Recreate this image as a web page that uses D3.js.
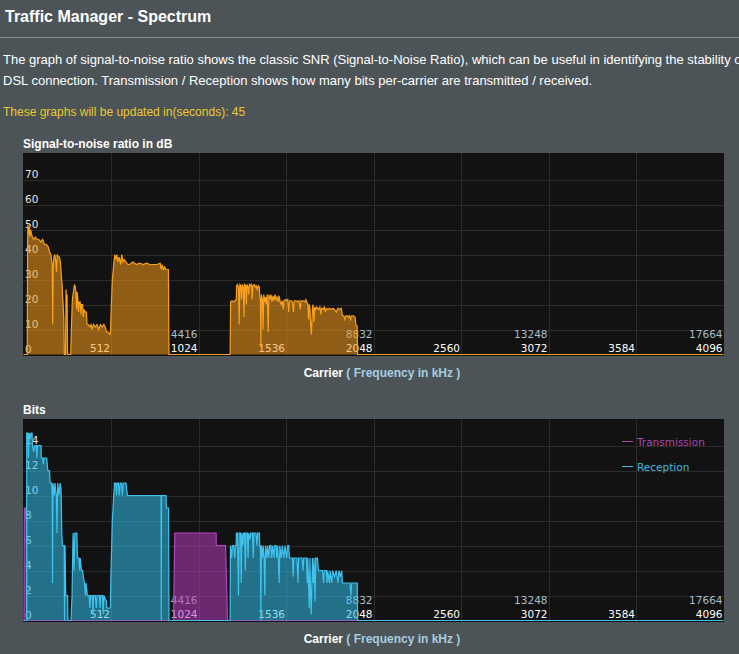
<!DOCTYPE html>
<html>
<head>
<meta charset="utf-8">
<script src="https://cdn.jsdelivr.net/npm/d3@7"></script>
<style>
  body { margin: 0; background: #4c5458; overflow: hidden; }
  svg { display: block; font-family: "Liberation Sans", Arial, sans-serif; }
</style>
</head>
<body>
<svg width="739" height="654"></svg>
<script>
// carrier index -> value
const snrPoints = [
  [0,0],[22,0],[24,45],[26,52],[29,48],[33,51],[37,47],[42,50],[47,48],[53,47],[60,46],[70,47],[80,46],[90,46],
  [100,45],[112,46],[123,44],[135,44],[145,43],[152,41],[160,40],[164,38],[168,36],[171,12],[174,35],[178,39],
  [183,40],[188,38],[193,33],[197,40],[203,39],[210,39],[216,37],[222,31],[226,28],[228,24],[232,20],[236,14],
  [239,0],[246,0],[249,26],[252,18],[255,24],[258,0],[276,0],[280,10],[286,22],[292,25],[298,28],[303,27],
  [308,24],[311,18],[314,25],[318,22],[322,17],[326,21],[332,21],[336,16],[340,20],[346,20],[350,15],[354,18],
  [360,17],[368,17],[372,12],[380,12],[388,11],[395,12],[402,10],[410,12],[420,11],[430,12],[440,10],[450,12],
  [460,11],[470,12],[478,11],[486,9],[495,9],[505,8],[509,9],[514,20],[520,30],[528,36],[534,40],[540,38],
  [546,40],[552,37],[560,39],[568,36],[575,40],[582,37],[590,38],[600,37],[610,36],[620,36],[640,37],[660,36],
  [680,36.5],[700,36],[720,36.5],[740,36],[760,36],[780,36],[800,36.5],[806,34],[812,36],[818,34],[826,35],
  [832,34],[848,34],[851,0],[1209,0],[1212,21],[1220,21.5],[1230,21],[1245,22],[1247,27.5],[1252,28],[1258,27],
  [1262,12],[1266,28],[1272,27.5],[1276,22],[1280,28],[1286,27],[1290,15],[1294,28],[1300,27.5],[1304,20],
  [1308,28],[1314,27],[1318,24],[1322,28],[1328,27.5],[1334,28],[1338,22],[1342,27.5],[1350,28],[1356,27],
  [1362,27.5],[1368,26],[1374,27.5],[1380,27],[1382,23.5],[1386,22],[1389,3],[1392,24],[1398,22],[1402,10],
  [1406,24],[1412,21],[1416,23],[1420,20],[1426,24],[1432,9],[1436,24],[1442,22],[1448,24],[1454,21],[1460,23.5],
  [1466,21.5],[1472,24],[1478,22],[1484,23],[1490,21],[1496,23.5],[1502,21],[1508,20],[1514,21.5],[1520,18],
  [1524,21.5],[1532,22],[1540,21.5],[1546,22],[1552,17],[1556,21.5],[1566,21.5],[1574,21],[1580,17],[1584,21.5],
  [1596,21.5],[1604,21],[1612,21.5],[1620,18],[1624,21.5],[1636,21.5],[1646,21],[1652,22],[1658,21],[1664,20],
  [1668,14],[1672,20],[1676,19],[1680,12],[1685,8],[1690,18],[1694,20],[1700,13],[1704,19],[1710,18],[1716,19],
  [1720,18.5],[1728,18],[1734,19],[1740,16],[1744,18.5],[1752,18],[1760,19],[1766,17],[1772,18.5],[1780,18],
  [1790,18.5],[1800,18],[1810,18.5],[1820,18],[1830,17],[1840,18.5],[1850,18],[1860,18.5],[1866,15.5],
  [1874,15.5],[1880,14],[1886,15.5],[1894,15.5],[1900,15],[1906,15.5],[1914,14],[1918,15.5],[1930,15.5],
  [1940,15],[1946,11.5],[1952,11.5],[1955,0],[4096,0]
];

const rxPoints = [
  [0,0],[18,0],[19,15],[26,15],[29,13],[33,15],[40,14.5],[44,15],[50,15],[52,14],[60,13.5],[64,14],[74,14],
  [78,13],[82,14],[103,14],[104,13],[112,13],[116,12.5],[120,13],[136,13],[142,12],[152,12],[156,11],[164,11],
  [168,10],[170,3],[172,11],[180,10],[184,11],[192,10],[196,7],[200,11],[208,10],[214,11],[220,10.5],[224,7],
  [228,6],[238,6],[240,0],[243,6],[247,2],[258,2],[260,0],[278,0],[284,2],[290,7],[296,4],[300,7],[312,7],
  [316,5],[324,5],[328,4],[332,5],[339,4],[346,4],[350,3.5],[357,3],[362,2],[366,3],[374,2],[384,2],[388,1],
  [392,2],[402,2],[406,0.5],[410,2],[420,2],[426,1],[430,2],[444,2],[448,1],[452,2],[462,2],[466,0.5],[470,2],
  [486,1.5],[488,1],[508,1],[512,4],[520,8],[528,10],[532,11],[540,11],[544,10],[548,11],[556,11],[560,10],
  [566,11],[574,11],[578,10],[584,11],[600,11],[608,10],[805,10],[806,0],[808,10],[834,10],[836,9],[849,9],
  [851,0],[1209,0],[1211,6],[1218,5],[1222,6],[1230,6],[1236,5],[1240,6],[1244,6],[1246,7],[1252,7],[1258,2],
  [1262,7],[1270,7],[1274,3],[1278,7],[1284,6],[1288,7],[1294,7],[1298,4],[1302,7],[1310,7],[1314,5],[1318,7],
  [1326,6.5],[1330,7],[1340,7],[1344,5],[1348,7],[1360,7],[1366,6],[1370,7],[1380,7],[1382,6],[1386,6],
  [1389,0],[1392,6],[1398,5],[1402,6],[1408,5],[1412,2],[1416,6],[1424,5],[1428,6],[1436,5],[1440,6],[1448,6],
  [1452,5],[1458,6],[1466,5],[1470,6],[1478,6],[1482,5],[1488,6],[1496,3],[1500,6],[1508,5],[1514,6],[1524,5],
  [1530,6],[1540,5],[1546,6],[1552,6],[1556,5],[1574,5],[1578,3.5],[1582,5],[1600,5],[1606,3],[1610,5],
  [1630,5],[1636,4],[1640,5],[1656,5],[1660,3],[1664,5],[1672,1],[1676,5],[1680,2],[1684,0.5],[1690,5],
  [1696,3],[1700,5],[1706,1.5],[1710,5],[1720,5],[1726,4],[1750,4],[1756,3],[1760,4],[1772,4],[1776,3],
  [1780,4],[1790,3],[1794,4],[1804,3],[1808,4],[1820,3.5],[1830,4],[1840,3],[1846,4],[1856,3.5],[1862,4],
  [1866,3],[1910,3],[1916,2],[1920,3],[1953,3],[1955,0],[4096,0]
];

const txPoints = [
  [0,0],[3,0],[5,9],[12,9],[14,8],[18,8],[20,0],[878,0],[885,7],[1127,7],[1128,6],[1182,6],[1194,0],[4096,0]
];

const carrierTicks = [512, 1024, 1536, 2048, 2560, 3072, 3584, 4096];
const freqTickCarriers = [1024, 2048, 3072, 4096];
const freqTickLabels = ["4416", "8832", "13248", "17664"];
const snrTicks = [0, 10, 20, 30, 40, 50, 60, 70];
const bitTicks = [0, 2, 4, 6, 8, 10, 12, 14];
const legendNames = ["Transmission", "Reception"];

const svg = d3.select("svg");
const tickFont = "'DejaVu Sans', Verdana, sans-serif";

// header
svg.append("text").attr("x", 5).attr("y", 22)
  .attr("fill", "#fff").attr("font-weight", "bold").attr("font-size", 16)
  .text("Traffic Manager - Spectrum");
svg.append("line").attr("x1", 0).attr("x2", 739).attr("y1", 37.5).attr("y2", 37.5)
  .attr("stroke", "#848c90");
svg.append("text").attr("x", 3).attr("y", 64).attr("fill", "#fff").attr("font-size", 13)
  .text("The graph of signal-to-noise ratio shows the classic SNR (Signal-to-Noise Ratio), which can be useful in identifying the stability of");
svg.append("text").attr("x", 3).attr("y", 85).attr("fill", "#fff").attr("font-size", 13)
  .text("DSL connection. Transmission / Reception shows how many bits per-carrier are transmitted / received.");
svg.append("text").attr("x", 3).attr("y", 116).attr("fill", "#ecc92a").attr("font-size", 12)
  .text("These graphs will be updated in(seconds): 45");

const x = d3.scaleLinear().domain([0, 4096]).range([23.5, 723.5]);

function drawPanel(top, yMax, yTicks, title, series) {
  const g = svg.append("g");
  const y = d3.scaleLinear().domain([0, yMax]).range([top + 201.5, top + 1.5]);

  g.append("text").attr("x", 23).attr("y", top - 5)
    .attr("fill", "#fff").attr("font-weight", "bold").attr("font-size", 12)
    .text(title);

  g.append("rect").attr("x", 23).attr("y", top).attr("width", 701).attr("height", 203)
    .attr("fill", "#121212");

  // grid
  g.append("g").selectAll("line").data(yTicks.filter(d => d > 0)).join("line")
    .attr("x1", 23).attr("x2", 724)
    .attr("y1", d => Math.round(y(d)) + 0.5).attr("y2", d => Math.round(y(d)) + 0.5)
    .attr("stroke", "#2c2c2c");
  g.append("g").selectAll("line").data(carrierTicks.slice(0, -1)).join("line")
    .attr("x1", d => Math.round(x(d)) + 0.5).attr("x2", d => Math.round(x(d)) + 0.5)
    .attr("y1", top).attr("y2", top + 203)
    .attr("stroke", "#2c2c2c");

  // tick labels sit under the data
  g.append("g").selectAll("text").data(yTicks).join("text")
    .attr("x", 25).attr("y", d => d === 0 ? top + 200 : y(d) - 1.5)
    .attr("fill", "#e4e4e4").attr("font-family", tickFont).attr("font-size", 10.5)
    .text(d => d);
  g.append("g").selectAll("text").data(carrierTicks).join("text")
    .attr("x", d => x(d) - 1).attr("y", top + 199)
    .attr("text-anchor", "end")
    .attr("fill", "#fff").attr("font-family", tickFont).attr("font-size", 10.5)
    .text(d => d);
  g.append("g").selectAll("text").data(freqTickCarriers).join("text")
    .attr("x", d => x(d) - 1).attr("y", top + 185)
    .attr("text-anchor", "end")
    .attr("fill", "#a9bccc").attr("font-family", tickFont).attr("font-size", 10.5)
    .text((d, i) => freqTickLabels[i]);

  const area = d3.area().x(d => x(d[0])).y0(y(0)).y1(d => y(d[1]));
  const line = d3.line().x(d => x(d[0])).y(d => y(d[1]));
  series.forEach(s => {
    g.append("path").datum(s.points).attr("d", area).attr("fill", s.fill);
    g.append("path").datum(s.points).attr("d", line)
      .attr("fill", "none").attr("stroke", s.stroke).attr("stroke-width", 1.2);
  });

  const cap = g.append("text").attr("x", 382).attr("y", top + 224)
    .attr("text-anchor", "middle").attr("font-weight", "bold").attr("font-size", 12);
  cap.append("tspan").attr("fill", "#fff").text("Carrier");
  cap.append("tspan").attr("fill", "#a6cde0").text(" ( Frequency in kHz )");

  return g;
}

drawPanel(153, 80, snrTicks, "Signal-to-noise ratio in dB", [
  { points: snrPoints, fill: "rgba(245,155,25,0.55)", stroke: "#f7a11e" }
]);

const bits = drawPanel(419, 16, bitTicks, "Bits", [
  { points: txPoints, fill: "rgba(180,60,190,0.55)", stroke: "#b443bd" },
  { points: rxPoints, fill: "rgba(50,190,235,0.55)", stroke: "#3fc3ee" }
]);

const legendColors = ["#a846ae", "#45b9df"];
const legend = bits.append("g").selectAll("g").data(legendNames).join("g")
  .attr("transform", (d, i) => `translate(622,${441.5 + i * 25})`);
legend.append("line").attr("x1", 0).attr("x2", 11)
  .attr("stroke", (d, i) => legendColors[i]);
legend.append("text").attr("x", 15).attr("y", 4)
  .attr("fill", (d, i) => legendColors[i])
  .attr("font-family", tickFont).attr("font-size", 10.5)
  .text(d => d);
</script>
</body>
</html>
